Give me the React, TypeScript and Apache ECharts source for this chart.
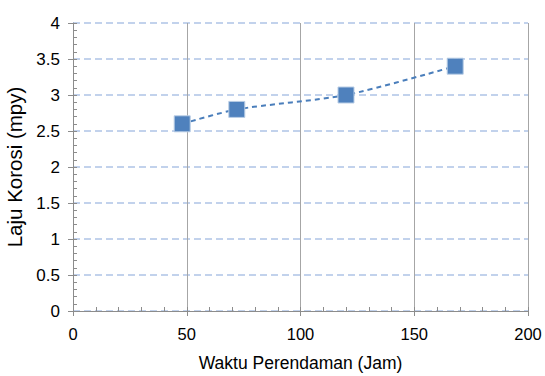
import React, { useEffect, useRef } from "react";
import * as echarts from "echarts";

const xValues = [48, 72, 120, 168];
const yValues = [2.6, 2.8, 3.0, 3.4];
const xTitle = "Waktu Perendaman (Jam)";
const yTitle = "Laju Korosi (mpy)";

const FONT = "'Liberation Sans', Arial, sans-serif";

export default function App() {
  const ref = useRef<HTMLDivElement>(null);
  useEffect(() => {
    if (!ref.current) return;
    const chart = echarts.init(ref.current, undefined, { renderer: "svg" });
    const data = xValues.map((x, i) => [x, yValues[i]]);
    chart.setOption({
      animation: false,
      backgroundColor: "#ffffff",
      grid: { left: 73, right: 17, top: 23, bottom: 65, outerBoundsMode: "none", containLabel: false },
      xAxis: [
        {
          type: "value",
          min: 0,
          max: 200,
          interval: 50,
          position: "bottom",
          name: xTitle,
          nameLocation: "middle",
          nameGap: 43,
          nameTextStyle: { fontFamily: FONT, fontSize: 17.5, color: "#000" },
          axisLine: { show: true, lineStyle: { color: "#8c8c8c", width: 1 } },
          axisTick: { show: true, inside: false, length: 5, lineStyle: { color: "#8c8c8c" } },
          axisLabel: { fontFamily: FONT, fontSize: 16.5, color: "#000", margin: 14 },
          splitLine: { show: true, lineStyle: { color: "#a6a6a6", width: 1, type: "solid" } },
        },
        {
          type: "value",
          min: 0,
          max: 200,
          interval: 10,
          position: "bottom",
          offset: 0,
          axisLine: { show: false },
          axisTick: { show: true, inside: true, length: 4, lineStyle: { color: "#8c8c8c" } },
          axisLabel: { show: false },
          splitLine: { show: false },
        },
      ],
      yAxis: [
        {
          type: "value",
          min: 0,
          max: 4,
          interval: 0.5,
          position: "left",
          name: yTitle,
          nameLocation: "middle",
          nameGap: 41,
          nameTextStyle: { fontFamily: FONT, fontSize: 20.5, color: "#000" },
          axisLine: { show: true, lineStyle: { color: "#8c8c8c", width: 1 } },
          axisTick: { show: true, inside: false, length: 5, lineStyle: { color: "#8c8c8c" } },
          axisLabel: { fontFamily: FONT, fontSize: 17, color: "#000", margin: 13 },
          splitLine: { show: true, lineStyle: { color: "#aec3e6", width: 1.5, type: [7, 4] } },
        },
        {
          type: "value",
          min: 0,
          max: 4,
          interval: 0.1,
          position: "left",
          offset: 0,
          axisLine: { show: false },
          axisTick: { show: true, inside: true, length: 4, lineStyle: { color: "#8c8c8c" } },
          axisLabel: { show: false },
          splitLine: { show: false },
        },
      ],
      series: [
        {
          type: "line",
          data,
          xAxisIndex: 0,
          yAxisIndex: 0,
          smooth: 0.25,
          symbol: "rect",
          symbolSize: 16,
          lineStyle: { color: "#4a7ebb", width: 2, type: [5, 4] },
          itemStyle: { color: "#4f81bd", borderColor: "#b9cde5", borderWidth: 1 },
          z: 5,
        },
      ],
    });
    return () => chart.dispose();
  }, []);
  return <div ref={ref} style={{ width: 545, height: 376, position: "absolute", left: 0, top: 0 }} />;
}
